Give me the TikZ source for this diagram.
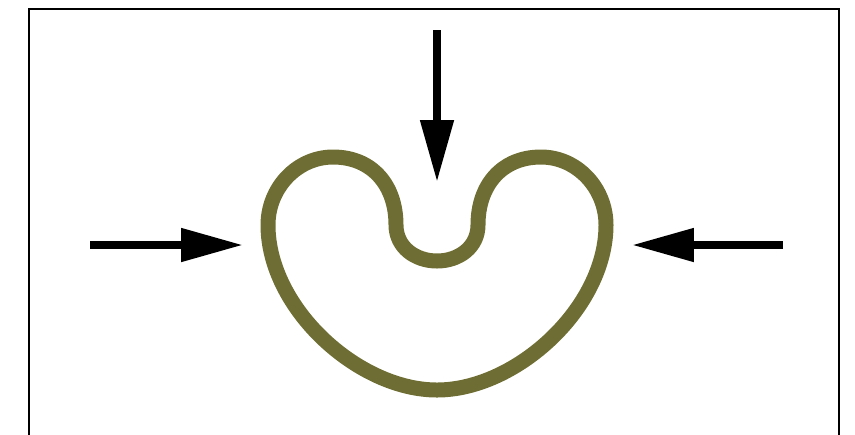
\documentclass[tikz,border=0pt]{standalone}
\usetikzlibrary{arrows.meta}
\definecolor{olivestroke}{RGB}{110,110,52}
\tikzset{
  push/.style={line width=0.16cm, -{Triangle[length=1.24cm,width=0.64cm]}},
  frameline/.style={line width=0.045cm, black},
  shell/.style={line width=0.3cm, draw=olivestroke, line join=round}
}
\begin{document}
\begin{tikzpicture}[x=0.02cm,y=-0.02cm]
\useasboundingbox (0,0) rectangle (855,434);
\draw[frameline] (29,440) -- (29,9) -- (839,9) -- (839,440);
% shell shape
\draw[shell]
  (437,390) .. controls (358,390) and (268,308) .. (268,225)
  .. controls (268,188) and (297,157) .. (333,157)
  .. controls (372,157) and (396,185) .. (396,225)
  .. controls (396,247) and (415,261) .. (437,261)
  .. controls (459,261) and (478,247) .. (478,225)
  .. controls (478,185) and (502,157) .. (541,157)
  .. controls (577,157) and (606,188) .. (606,225)
  .. controls (606,308) and (516,390) .. (437,390) -- cycle;
% arrows
\coordinate (lstart) at (90,245);
\coordinate (lend) at (243,245);
\coordinate (rstart) at (783,245);
\coordinate (rend) at (632,245);
\coordinate (tstart) at (437,30);
\coordinate (tend) at (437,182);
\draw[push] (lstart) -- (lend);
\draw[push] (rstart) -- (rend);
\draw[push] (tstart) -- (tend);
\end{tikzpicture}
\end{document}
